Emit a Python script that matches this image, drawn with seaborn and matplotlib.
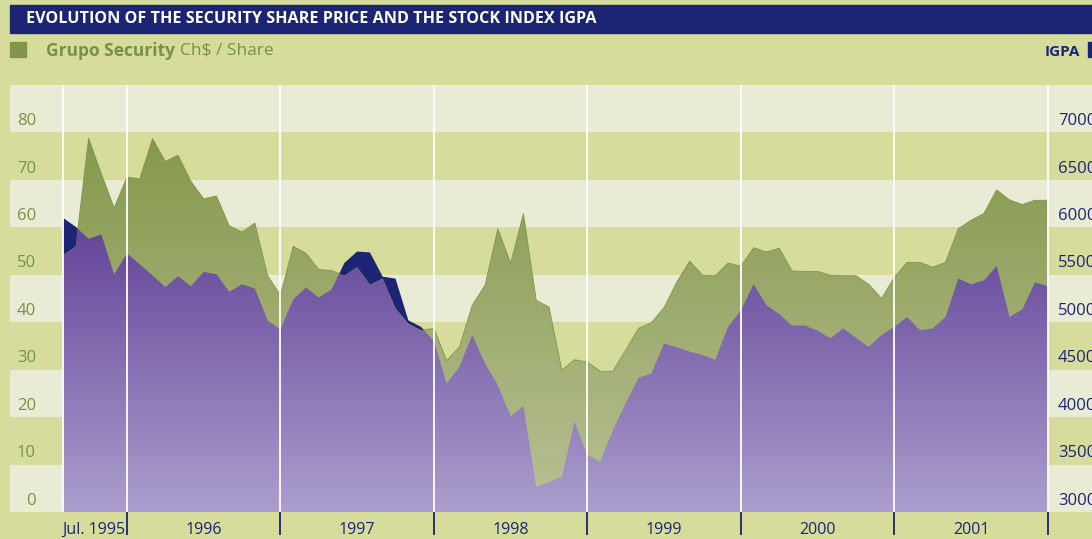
import numpy as np
import pandas as pd
import seaborn as sns
import matplotlib.pyplot as plt
from matplotlib.patches import Polygon, Rectangle
from matplotlib.colors import to_rgb

# monthly points, Aug 1995 .. Jan 2002
months = pd.period_range('1995-08', periods=78, freq='M')

# Grupo Security share price, Ch$ / share
share = [54.1, 56.0, 78.8, 71.3, 64.1, 70.6, 70.2, 78.7, 73.9, 75.2,
         69.7, 66.0, 66.6, 60.3, 59.0, 60.9, 49.8, 45.7, 56.0, 54.5,
         51.1, 50.9, 49.8, 51.6, 47.9, 49.2, 42.9, 39.7, 38.3, 38.7,
         31.9, 34.8, 43.6, 47.8, 59.7, 52.4, 62.9, 44.6, 43.2, 29.9,
         32.1, 31.6, 29.7, 29.7, 34.1, 38.7, 39.9, 43.1, 48.5, 52.9,
         49.9, 49.8, 52.5, 51.8, 55.7, 54.8, 55.6, 50.8, 50.7, 50.7,
         49.9, 49.8, 49.8, 48.0, 45.0, 49.5, 52.6, 52.6, 51.6, 52.6,
         59.7, 61.5, 62.9, 67.9, 65.8, 64.8, 65.7, 65.7]

# IGPA stock index
igpa = [6100, 6005, 5880, 5925, 5505, 5725, 5610, 5495, 5370, 5485,
        5380, 5530, 5505, 5320, 5400, 5355, 5015, 4925, 5240, 5365,
        5260, 5345, 5625, 5745, 5735, 5480, 5460, 5020, 4950, 4800,
        4355, 4530, 4865, 4565, 4335, 4010, 4115, 3265, 3315, 3370,
        3950, 3600, 3530, 3865, 4145, 4415, 4460, 4775, 4735, 4690,
        4655, 4605, 4950, 5125, 5400, 5180, 5085, 4965, 4965, 4910,
        4830, 4935, 4835, 4740, 4865, 4950, 5055, 4915, 4935, 5055,
        5460, 5400, 5440, 5595, 5055, 5135, 5420, 5380]

left_ticks = [0, 10, 20, 30, 40, 50, 60, 70, 80]
right_ticks = [3000, 3500, 4000, 4500, 5000, 5500, 6000, 6500, 7000]
year_labels = ['Jul. 1995', '1996', '1997', '1998', '1999', '2000', '2001']
year_starts = [5, 17, 29, 41, 53, 65, 77]

BG = '#d6dc9c'
LIGHT = '#e9ebd5'
NAVY = '#1c2574'
GREEN_TXT = '#7a9145'

sns.set_theme(style='white')
plt.rcParams['font.family'] = ['Open Sans', 'DejaVu Sans']

fig = plt.figure(figsize=(10.92, 5.39), dpi=100)
fig.patch.set_facecolor(BG)
W, H = 1092, 539

x = np.arange(len(months))
s = np.array(share)
g = (np.array(igpa) - 3000) / 50.0  # IGPA on the left scale (3000 -> 0, 7500 -> 90)

xmin = (10 - 63) / 12.79
xmax = (1092 - 63) / 12.79
ax = fig.add_axes([10 / W, (H - 512) / H, (W - 10) / W, (512 - 85) / H])
ax.set_facecolor(BG)
ax.set_xlim(xmin, xmax)
ax.set_ylim(0, 90)
for sp in ax.spines.values():
    sp.set_visible(False)

# alternating bands
for k in range(9):
    if k % 2 == 0:
        ax.axhspan(k * 10, k * 10 + 10, color=LIGHT, lw=0, zorder=0)


def gradient(top, bottom, clip):
    t = np.array(to_rgb(top))
    b = np.array(to_rgb(bottom))
    f = np.linspace(0, 1, 256)[:, None, None]
    img = t + (b - t) * f
    im = ax.imshow(img, extent=[x[0], x[-1], 0, 90], origin='upper',
                   aspect='auto', interpolation='bilinear', zorder=1)
    im.set_clip_path(clip)
    return im


# share area (green)
green_poly = Polygon(np.column_stack([np.r_[x[0], x, x[-1]], np.r_[0, s, 0]]),
                     closed=True, transform=ax.transData)
gradient('#7f9342', '#b8c195', green_poly)
sns.lineplot(x=x, y=s, ax=ax, color='#829647', lw=0.6, zorder=1.5)

# IGPA above share (navy)
ax.fill_between(x, s, g, where=g > s, interpolate=True, color=NAVY, lw=0, zorder=2)

# below both curves (purple)
px, py = [], []
for i in range(len(x) - 1):
    px.append(x[i]); py.append(min(s[i], g[i]))
    d0, d1 = s[i] - g[i], s[i + 1] - g[i + 1]
    if d0 * d1 < 0:
        t = d0 / (d0 - d1)
        px.append(x[i] + t); py.append(s[i] + t * (s[i + 1] - s[i]))
px.append(x[-1]); py.append(min(s[-1], g[-1]))
purple_poly = Polygon(np.column_stack([np.r_[x[0], px, x[-1]], np.r_[0, py, 0]]),
                      closed=True, transform=ax.transData)
im = gradient('#40197e', '#ab9ecd', purple_poly)
im.set_zorder(3)

# year separators
for xv in [0] + year_starts:
    ax.plot([xv, xv], [0, 90], color='white', lw=1.3, zorder=4)

ax.set_xticks(year_starts)
ax.set_xticklabels([])
ax.set_yticks([])
ax.tick_params(axis='x', length=16.5, width=1.3, color=NAVY, direction='out', bottom=True)
ax.xaxis.get_major_ticks()[3].tick1line.set_color('#7f7fb0')
ax.xaxis.get_major_ticks()[-1].tick1line.set_color('white')

# left labels
for v in left_ticks:
    ax.text((36 - 63) / 12.79, v + 2.4, str(v), ha='right', va='center',
            fontsize=12, color=GREEN_TXT)

# right labels through a twin scale
ax2 = ax.twinx()
ax2.set_ylim(3000, 7500)
ax2.set_yticks([])
for sp in ax2.spines.values():
    sp.set_visible(False)
for v in right_ticks:
    ax2.text((1058 - 63) / 12.79, v + 120, str(v), ha='left', va='center',
             fontsize=12, color=NAVY, clip_on=False)

# year labels
centers = [None] + [(a + b) / 2 for a, b in zip(year_starts[:-1], year_starts[1:])]
trans = ax.get_xaxis_transform()
ax.text((125 - 63) / 12.79, -18 / 427, year_labels[0], transform=trans,
        ha='right', va='center', fontsize=11.5, color=NAVY)
for c, lab in zip(centers[1:], year_labels[1:]):
    ax.text(c, -18 / 427, lab, transform=trans, ha='center', va='center',
            fontsize=11.5, color=NAVY)

# header bar and legend
fig.patches.append(Rectangle((10 / W, 1 - 33 / H), 1, 28 / H, transform=fig.transFigure,
                             color=NAVY, zorder=0))
fig.text(26 / W, 1 - 19 / H, 'EVOLUTION OF THE SECURITY SHARE PRICE AND THE STOCK INDEX IGPA',
         ha='left', va='center', fontsize=11.6, fontweight='bold', color='white')
fig.patches.append(Rectangle((10 / W, 1 - 57 / H), 16 / W, 15 / H, transform=fig.transFigure,
                             color='#82964a'))
fig.text(46 / W, 1 - 51 / H, 'Grupo Security', ha='left', va='center',
         fontsize=12.5, fontweight='bold', color=GREEN_TXT)
fig.text(180 / W, 1 - 51 / H, 'Ch$ / Share', ha='left', va='center',
         fontsize=12.5, color=GREEN_TXT)
fig.text(1080 / W, 1 - 52 / H, 'IGPA', ha='right', va='center',
         fontsize=11, fontweight='bold', color=NAVY)
fig.patches.append(Rectangle((1088 / W, 1 - 57 / H), 12 / W, 15 / H, transform=fig.transFigure,
                             color=NAVY))

fig.savefig('out.png', dpi=100, facecolor=BG)
